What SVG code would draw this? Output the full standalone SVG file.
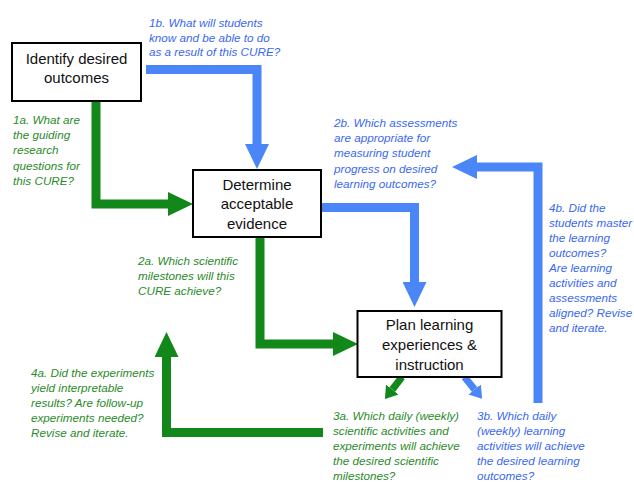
<svg xmlns="http://www.w3.org/2000/svg" width="634" height="482" viewBox="0 0 634 482">
<style>
.box rect{fill:#fff;stroke:#000;stroke-width:2}
.box text{font-family:"Liberation Sans",Arial,sans-serif;font-size:15px;fill:#111;text-anchor:middle}
.q{font-family:"Liberation Sans",Arial,sans-serif;font-size:11.7px;font-style:italic}
.qg{fill:#2a8a2a}
.qb{fill:#3a68f2}
.g{fill:none;stroke:#12871a;stroke-width:9;stroke-linejoin:miter}
.b{fill:none;stroke:#4a86f7;stroke-width:9;stroke-linejoin:miter}
.gs{fill:none;stroke:#12871a;stroke-width:7}
.bs{fill:none;stroke:#4a86f7;stroke-width:7}
</style>
<defs>
<marker id="hg" markerUnits="userSpaceOnUse" markerWidth="25" markerHeight="24" refX="0" refY="12" orient="auto"><path d="M0,0 L25,12 L0,24 z" fill="#12871a"/></marker>
<marker id="hb" markerUnits="userSpaceOnUse" markerWidth="25" markerHeight="24" refX="0" refY="12" orient="auto"><path d="M0,0 L25,12 L0,24 z" fill="#4a86f7"/></marker>
<marker id="sg" markerUnits="userSpaceOnUse" markerWidth="12" markerHeight="16" refX="0" refY="8" orient="auto"><path d="M0,0 L12,8 L0,16 z" fill="#12871a"/></marker>
<marker id="sb" markerUnits="userSpaceOnUse" markerWidth="12" markerHeight="16" refX="0" refY="8" orient="auto"><path d="M0,0 L12,8 L0,16 z" fill="#4a86f7"/></marker>
</defs>
<g id="connectors">
<polyline class="b" points="146,69.5 257,69.5 257,144" marker-end="url(#hb)"/>
<polyline class="g" points="96,101 96,204 168,204" marker-end="url(#hg)"/>
<polyline class="b" points="321,207.5 414.5,207.5 414.5,282" marker-end="url(#hb)"/>
<polyline class="g" points="260,237 260,344 333,344" marker-end="url(#hg)"/>
<polyline class="b" points="538,403 538,167 477,167" marker-end="url(#hb)"/>
<polyline class="g" points="323,432.5 166.5,432.5 166.5,357" marker-end="url(#hg)"/>
<line class="gs" x1="402" y1="377" x2="392.3" y2="389.5" marker-end="url(#sg)"/>
<line class="bs" x1="464.5" y1="377" x2="474.6" y2="389.5" marker-end="url(#sb)"/>
</g>
<g id="node-identify" class="box">
<rect x="12" y="43" width="129" height="58"/>
<text x="76.5" y="63.5">Identify desired</text>
<text x="76.5" y="83">outcomes</text>
</g>
<g id="node-determine" class="box">
<rect x="193" y="170" width="128" height="67"/>
<text x="257" y="189.5">Determine</text>
<text x="257" y="209">acceptable</text>
<text x="257" y="228.5">evidence</text>
</g>
<g id="node-plan" class="box">
<rect x="357.5" y="311" width="144" height="66"/>
<text x="429.5" y="330">Plan learning</text>
<text x="429.5" y="349.5">experiences &amp;</text>
<text x="429.5" y="370">instruction</text>
</g>
<g id="label-1b" class="q qb">
<text x="149" y="27">1b. What will students</text>
<text x="149" y="41.5">know and be able to do</text>
<text x="149" y="56">as a result of this CURE?</text>
</g>
<g id="label-1a" class="q qg">
<text x="13" y="124">1a. What are</text>
<text x="13" y="139">the guiding</text>
<text x="13" y="154">research</text>
<text x="13" y="169.5">questions for</text>
<text x="13" y="185">this CURE?</text>
</g>
<g id="label-2b" class="q qb">
<text x="334" y="127">2b. Which assessments</text>
<text x="334" y="142">are appropriate for</text>
<text x="334" y="157">measuring student</text>
<text x="334" y="172.5">progress on desired</text>
<text x="334" y="188">learning outcomes?</text>
</g>
<g id="label-2a" class="q qg">
<text x="138" y="265">2a. Which scientific</text>
<text x="138" y="280">milestones will this</text>
<text x="138" y="295">CURE achieve?</text>
</g>
<g id="label-4b" class="q qb">
<text x="549" y="212">4b. Did the</text>
<text x="549" y="226.5">students master</text>
<text x="549" y="241.5">the learning</text>
<text x="549" y="257">outcomes?</text>
<text x="549" y="272">Are learning</text>
<text x="549" y="287">activities and</text>
<text x="549" y="302">assessments</text>
<text x="549" y="317">aligned? Revise</text>
<text x="549" y="332">and iterate.</text>
</g>
<g id="label-4a" class="q qg">
<text x="31" y="377">4a. Did the experiments</text>
<text x="31" y="392">yield interpretable</text>
<text x="31" y="407">results? Are follow-up</text>
<text x="31" y="422">experiments needed?</text>
<text x="31" y="437">Revise and iterate.</text>
</g>
<g id="label-3a" class="q qg">
<text x="333" y="420">3a. Which daily (weekly)</text>
<text x="333" y="435">scientific activities and</text>
<text x="333" y="450">experiments will achieve</text>
<text x="333" y="465">the desired scientific</text>
<text x="333" y="480">milestones?</text>
</g>
<g id="label-3b" class="q qb">
<text x="477" y="420">3b. Which daily</text>
<text x="477" y="435">(weekly) learning</text>
<text x="477" y="450">activities will achieve</text>
<text x="477" y="465">the desired learning</text>
<text x="477" y="480">outcomes?</text>
</g>
</svg>
